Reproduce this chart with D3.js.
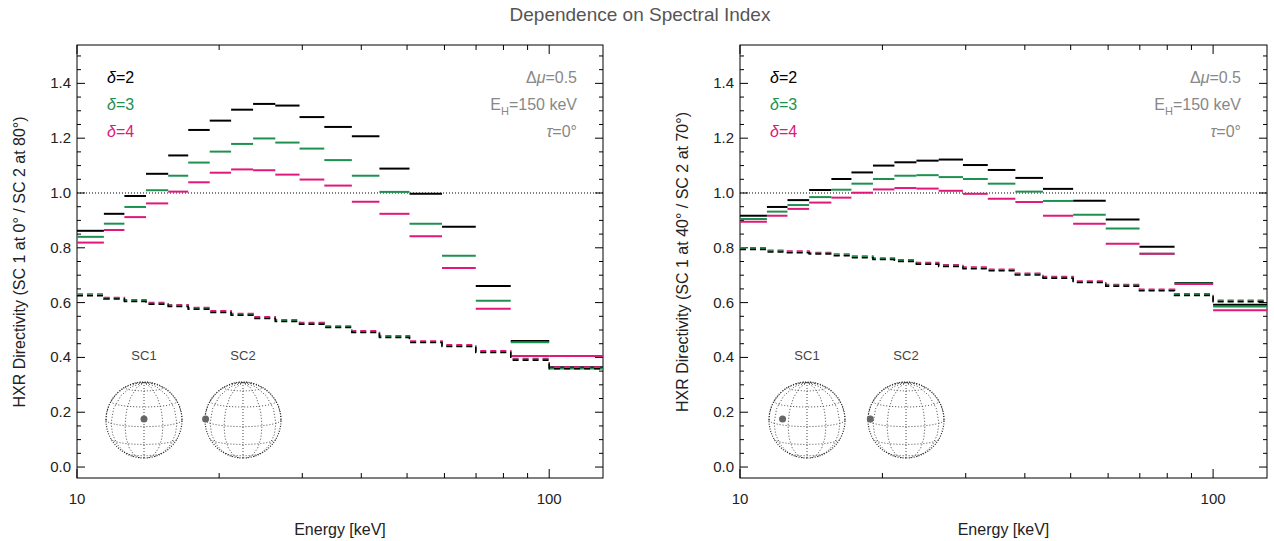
<!DOCTYPE html>
<html><head><meta charset="utf-8">
<script src="https://cdn.jsdelivr.net/npm/d3@7"></script>
<style>body{margin:0;background:#fff}text{font-family:"Liberation Sans",Arial,sans-serif}</style>
</head><body><svg id="c" width="1274" height="541"></svg>
<script>
// energy bin edges (keV)
var edges = [10,11.4,12.6,14,15.6,17.2,19.1,21.2,23.6,26.3,29.6,33.4,38.2,43.7,50.6,59.3,69.9,82.9,100,130];

var leftD2 = [.862,.924,.989,1.070,1.137,1.230,1.264,1.304,1.325,1.319,1.277,1.241,1.207,1.089,.997,.877,.661,.460,.364];
var leftD3 = [.840,.888,.949,1.010,1.063,1.111,1.151,1.179,1.199,1.184,1.162,1.120,1.063,1.004,.888,.771,.607,.455,.360];
var leftD4 = [.819,.865,.912,.962,1.005,1.039,1.074,1.086,1.083,1.067,1.049,1.027,.968,.924,.842,.726,.578,.405,.405];
var leftDash = [.628,.616,.607,.597,.589,.579,.567,.557,.545,.534,.524,.512,.494,.476,.457,.443,.421,.393,.362];

var rightD2 = [.917,.949,.974,1.011,1.051,1.075,1.100,1.112,1.118,1.122,1.102,1.084,1.055,1.015,.972,.903,.804,.672,.592];
var rightD3 = [.905,.932,.956,.985,1.012,1.034,1.051,1.063,1.065,1.058,1.051,1.034,1.005,.971,.921,.870,.778,.670,.586];
var rightD4 = [.895,.917,.942,.965,.983,1.001,1.013,1.018,1.016,1.008,.997,.979,.967,.917,.888,.815,.778,.668,.572];
var rightDash = [.797,.788,.785,.780,.774,.767,.760,.753,.743,.735,.727,.719,.704,.692,.676,.663,.646,.629,.606];

var yTicks = [0,0.2,0.4,0.6,0.8,1.0,1.2,1.4];
var colors = ["#000000","#1e9050","#e0187a"];
var svg = d3.select("#c");

svg.append("text").attr("x",640).attr("y",21).attr("text-anchor","middle")
  .attr("font-size",19).attr("fill","#555").text("Dependence on Spectral Index");

function panel(x0, x1, series, dash, ylab, sc1, sc2){
  var x = d3.scaleLog().domain([10,130]).range([x0,x1]);
  var y = d3.scaleLinear().domain([-0.04,1.54]).range([478,45]);
  var g = svg.append("g");
  g.append("rect").attr("x",x0).attr("y",45).attr("width",x1-x0).attr("height",433)
    .attr("fill","none").attr("stroke","#000").attr("stroke-width",1);
  // y ticks
  var minor = d3.range(0,1.5001,0.05);
  minor.forEach(function(v){
    var big = Math.abs(v*5-Math.round(v*5))<1e-6, L = big?8:4;
    g.append("line").attr("x1",x0).attr("x2",x0+L).attr("y1",y(v)).attr("y2",y(v)).attr("stroke","#000");
    g.append("line").attr("x1",x1).attr("x2",x1-L).attr("y1",y(v)).attr("y2",y(v)).attr("stroke","#000");
  });
  yTicks.forEach(function(v){
    g.append("text").attr("x",x0-6).attr("y",y(v)+5).attr("text-anchor","end")
      .attr("font-size",15).attr("fill","#222").text(v.toFixed(1));
  });
  // x ticks
  [10,20,30,40,50,60,70,80,90,100].forEach(function(v){
    var L = (v==10||v==100)?9:5;
    g.append("line").attr("x1",x(v)).attr("x2",x(v)).attr("y1",478).attr("y2",478-L).attr("stroke","#000");
    g.append("line").attr("x1",x(v)).attr("x2",x(v)).attr("y1",45).attr("y2",45+L).attr("stroke","#000");
  });
  [10,100].forEach(function(v){
    g.append("text").attr("x",x(v)).attr("y",504).attr("text-anchor","middle")
      .attr("font-size",15).attr("fill","#222").text(v);
  });
  g.append("text").attr("x",(x0+x1)/2).attr("y",535).attr("text-anchor","middle")
    .attr("font-size",16).attr("fill","#222").text("Energy [keV]");
  g.append("text").attr("transform","translate("+(x0-52)+",262) rotate(-90)").attr("text-anchor","middle")
    .attr("font-size",16).attr("fill","#222").text(ylab);
  // reference line
  g.append("line").attr("x1",x0).attr("x2",x1).attr("y1",y(1)).attr("y2",y(1))
    .attr("stroke","#000").attr("stroke-dasharray","1,2").attr("stroke-width",1);
  // bars
  series.forEach(function(s,k){
    s.forEach(function(v,i){
      g.append("line").attr("x1",x(edges[i])).attr("x2",x(edges[i+1])).attr("y1",y(v)).attr("y2",y(v))
        .attr("stroke",colors[k]).attr("stroke-width",2);
    });
  });
  // dashed step curves
  [2,1,0].forEach(function(k){
    var pts = [];
    dash.forEach(function(v,i){ pts.push([edges[i],v+(k-1)*0.003],[edges[i+1],v+(k-1)*0.003]); });
    g.append("path").attr("d",d3.line().x(function(d){return x(d[0]);}).y(function(d){return y(d[1]);})(pts))
      .attr("fill","none").attr("stroke",colors[k]).attr("stroke-width",1.5).attr("stroke-dasharray","6,4");
  });
  // legend
  ["2","3","4"].forEach(function(t,k){
    var tx = g.append("text").attr("x",x0+30).attr("y",83+k*27).attr("font-size",16).attr("fill",colors[k]);
    tx.append("tspan").attr("font-style","italic").text("δ");
    tx.append("tspan").text("="+t);
  });
  var ax = x1-26;
  g.append("text").attr("x",ax).attr("y",83).attr("text-anchor","end").attr("font-size",16).attr("fill","#888")
    .html('Δ<tspan font-style="italic">μ</tspan>=0.5');
  g.append("text").attr("x",ax).attr("y",110).attr("text-anchor","end").attr("font-size",16).attr("fill","#888")
    .html('E<tspan font-size="11" dy="5">H</tspan><tspan dy="-5">=150 keV</tspan>');
  g.append("text").attr("x",ax).attr("y",137).attr("text-anchor","end").attr("font-size",16).attr("fill","#888")
    .html('<tspan font-style="italic">τ</tspan>=0°');
  // globes
  [[x0+67,sc1,"SC1"],[x0+166,sc2,"SC2"]].forEach(function(gl){
    var proj = d3.geoOrthographic().scale(38).translate([gl[0],420]).rotate([0,-10]);
    var path = d3.geoPath(proj);
    g.append("path").attr("d",path(d3.geoGraticule().step([30,30])())).attr("fill","none")
      .attr("stroke","#444").attr("stroke-width",1).attr("stroke-dasharray","1,2");
    g.append("path").attr("d",path({type:"Sphere"})).attr("fill","none")
      .attr("stroke","#222").attr("stroke-width",1.2).attr("stroke-dasharray","1,1.5");
    g.append("circle").attr("cx",gl[0]-38*Math.sin(gl[1]*Math.PI/180)).attr("cy",419).attr("r",3.5).attr("fill","#666");
    g.append("text").attr("x",gl[0]).attr("y",360).attr("text-anchor","middle").attr("font-size",13).attr("fill","#444").text(gl[2]);
  });
}

panel(77,603,[leftD2,leftD3,leftD4],leftDash,"HXR Directivity (SC 1 at 0° / SC 2 at 80°)",0,80);
panel(740,1267,[rightD2,rightD3,rightD4],rightDash,"HXR Directivity (SC 1 at 40° / SC 2 at 70°)",40,70);
</script></body></html>
